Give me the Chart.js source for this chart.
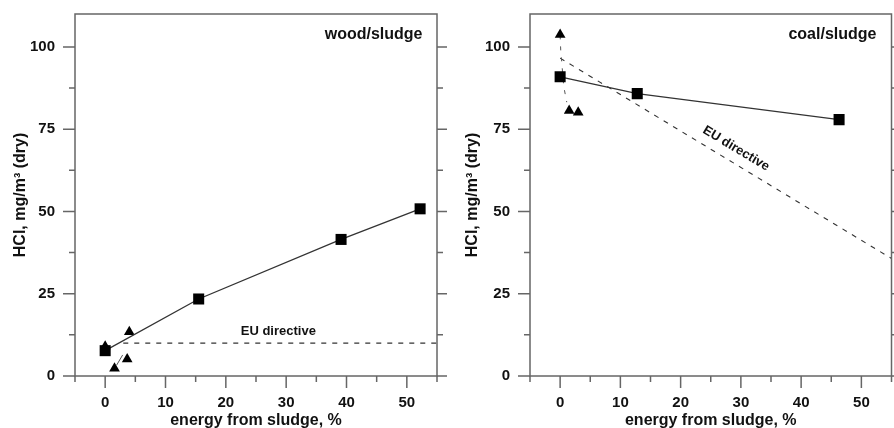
<!DOCTYPE html>
<html>
<head>
<meta charset="utf-8">
<script src="https://cdn.jsdelivr.net/npm/chart.js@4"></script>
<style>
  html, body { margin: 0; padding: 0; background: #fff; overflow: hidden; }
  canvas { position: absolute; top: 0; }
  #wood { left: 0; }
  #coal { left: 447px; }
</style>
</head>
<body>
<canvas id="wood" width="447" height="430"></canvas>
<canvas id="coal" width="447" height="430"></canvas>
<script>
// values
var xTicks = [0, 10, 20, 30, 40, 50];
var xMinorTicks = [-5, 5, 15, 25, 35, 45, 55];
var yTicks = [0, 25, 50, 75, 100];
var yMinorTicks = [12.5, 37.5, 62.5, 87.5];

var woodSquareX = [0, 15.5, 39.1, 52.2];
var woodSquareY = [7.7, 23.4, 41.5, 50.8];
var woodTriangleX = [0, 1.55, 3.65, 4.0];
var woodTriangleY = [9.0, 2.3, 5.1, 13.4];
var woodEuX = [3, 55];
var woodEuY = [10, 10];
var woodLeaderX = [1.9, 2.9];
var woodLeaderY = [3.3, 6.4];

var coalSquareX = [0, 12.8, 46.3];
var coalSquareY = [90.9, 85.8, 77.9];
var coalTriangleX = [0, 1.5, 3.0];
var coalTriangleY = [103.7, 80.6, 80.1];
var coalEuX = [0, 55];
var coalEuY = [96.6, 35.7];
var coalLeaderX = [0, 0.1, 0.6, 1.1];
var coalLeaderY = [103.5, 99, 88, 83.2];

var FONT = '"Liberation Sans", Arial, sans-serif';

function pts(xs, ys) {
  var out = [];
  for (var i = 0; i < xs.length; i++) out.push({ x: xs[i], y: ys[i] });
  return out;
}

// box, outward ticks and the text labels inside the plot
var framePlugin = {
  id: 'frame',
  afterDraw: function (chart, args, opts) {
    var ctx = chart.ctx, a = chart.chartArea;
    var xs = chart.scales.x, ys = chart.scales.y;
    ctx.save();
    ctx.strokeStyle = '#666';
    ctx.lineWidth = 1.5;
    ctx.strokeRect(a.left, a.top, a.right - a.left, a.bottom - a.top);
    ctx.beginPath();
    function yTick(v, len) {
      var p = ys.getPixelForValue(v);
      ctx.moveTo(a.left - len, p); ctx.lineTo(a.left, p);
      ctx.moveTo(a.right, p); ctx.lineTo(a.right + len, p);
    }
    function xTick(v, len) {
      var p = xs.getPixelForValue(v);
      ctx.moveTo(p, a.bottom); ctx.lineTo(p, a.bottom + len);
    }
    yTicks.forEach(function (v) { yTick(v, 12); });
    yMinorTicks.forEach(function (v) { yTick(v, 6); });
    xTicks.forEach(function (v) { xTick(v, 12); });
    xMinorTicks.forEach(function (v) { xTick(v, 6); });
    ctx.stroke();

    ctx.fillStyle = '#111';
    ctx.font = 'bold 16px ' + FONT;
    ctx.textAlign = 'right';
    ctx.textBaseline = 'middle';
    ctx.fillText(opts.panel, xs.getPixelForValue(opts.panelAt[0]), ys.getPixelForValue(opts.panelAt[1]));

    var ang = 0;
    if (opts.rotate) {
      var x0 = xs.getPixelForValue(opts.euX[0]), y0 = ys.getPixelForValue(opts.euY[0]);
      var x1 = xs.getPixelForValue(opts.euX[1]), y1 = ys.getPixelForValue(opts.euY[1]);
      ang = Math.atan2(y1 - y0, x1 - x0);
    }
    ctx.translate(xs.getPixelForValue(opts.euAt[0]), ys.getPixelForValue(opts.euAt[1]));
    ctx.rotate(ang);
    ctx.font = 'bold 13px ' + FONT;
    ctx.textAlign = 'center';
    ctx.fillText('EU directive', 0, 0);
    ctx.restore();
  }
};

function makePanel(id, d, axisWidth, titlePad, padRight, frameOpts) {
  var tickFont = { family: FONT, size: 15, weight: 'bold' };
  var titleFont = { family: FONT, size: 16, weight: 'bold' };
  return new Chart(document.getElementById(id), {
    type: 'scatter',
    data: {
      datasets: [
        {
          label: 'squares',
          data: pts(d.sqX, d.sqY),
          showLine: true,
          borderColor: '#333',
          borderWidth: 1.3,
          pointStyle: 'rect',
          pointRadius: 7.8,
          pointBackgroundColor: '#000',
          pointBorderColor: '#000',
          pointBorderWidth: 0,
          order: 0
        },
        {
          label: 'triangles',
          data: pts(d.trX, d.trY),
          showLine: false,
          pointStyle: 'triangle',
          pointRadius: 6.2,
          pointBackgroundColor: '#000',
          pointBorderColor: '#000',
          pointBorderWidth: 0,
          order: 1
        },
        {
          label: 'leader',
          data: pts(d.leadX, d.leadY),
          showLine: true,
          borderColor: '#555',
          borderWidth: 1,
          borderDash: d.leadDash,
          pointRadius: 0,
          order: 2
        },
        {
          label: 'EU directive',
          data: pts(d.euX, d.euY),
          showLine: true,
          borderColor: '#333',
          borderWidth: 1.1,
          borderDash: [5, 6],
          pointRadius: 0,
          order: 3
        }
      ]
    },
    options: {
      responsive: false,
      animation: false,
      devicePixelRatio: 1,
      layout: { autoPadding: false, padding: { top: 14, right: padRight, bottom: 0, left: 0 } },
      plugins: {
        legend: { display: false },
        tooltip: { enabled: false },
        frame: frameOpts
      },
      scales: {
        x: {
          type: 'linear', min: -5, max: 55,
          afterBuildTicks: function (s) { s.ticks = xTicks.map(function (v) { return { value: v }; }); },
          afterFit: function (s) { s.height = 54; s.paddingLeft = 0; s.paddingRight = 0; s.paddingTop = 0; s.paddingBottom = 0; },
          grid: { display: false, drawTicks: false },
          border: { display: false },
          ticks: { padding: 18, font: tickFont, color: '#111', maxRotation: 0, autoSkip: false },
          title: { display: true, text: 'energy from sludge, %', font: titleFont, color: '#111', padding: { top: 0, bottom: 0 } }
        },
        y: {
          type: 'linear', min: 0, max: 110,
          afterBuildTicks: function (s) { s.ticks = yTicks.map(function (v) { return { value: v }; }); },
          afterFit: function (s) { s.width = axisWidth; s.paddingLeft = 0; s.paddingRight = 0; s.paddingTop = 0; s.paddingBottom = 0; },
          grid: { display: false, drawTicks: false },
          border: { display: false },
          ticks: { padding: 20, font: tickFont, color: '#111', autoSkip: false },
          title: { display: true, text: 'HCl, mg/m³ (dry)', font: titleFont, color: '#111', padding: { top: titlePad, bottom: 0 } }
        }
      }
    },
    plugins: [framePlugin]
  });
}

makePanel('wood', {
  sqX: woodSquareX, sqY: woodSquareY,
  trX: woodTriangleX, trY: woodTriangleY,
  euX: woodEuX, euY: woodEuY,
  leadX: woodLeaderX, leadY: woodLeaderY, leadDash: []
}, 75, 11, 10, {
  panel: 'wood/sludge', panelAt: [52.6, 103.8],
  euAt: [28.7, 13.6], rotate: false, euX: woodEuX, euY: woodEuY
});

makePanel('coal', {
  sqX: coalSquareX, sqY: coalSquareY,
  trX: coalTriangleX, trY: coalTriangleY,
  euX: coalEuX, euY: coalEuY,
  leadX: coalLeaderX, leadY: coalLeaderY, leadDash: [4, 7]
}, 83, 16, 2.5, {
  panel: 'coal/sludge', panelAt: [52.5, 103.8],
  euAt: [29.2, 69.1], rotate: true, euX: coalEuX, euY: coalEuY
});
</script>
</body>
</html>
